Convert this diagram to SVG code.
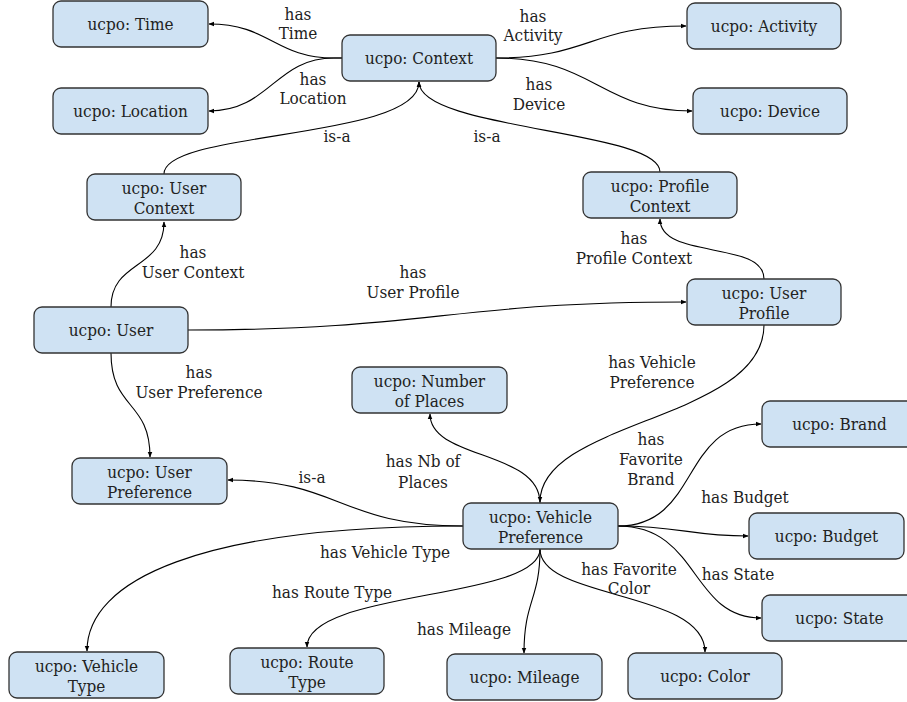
<svg xmlns="http://www.w3.org/2000/svg" width="907" height="702" viewBox="0 0 907 702">
<defs>
<marker id="arr" viewBox="0 0 10 10" refX="9" refY="5" markerWidth="6" markerHeight="6" markerUnits="userSpaceOnUse" orient="auto">
<path d="M0,1 L10,5 L0,9 Z" fill="#000"/>
</marker>
<style>
.n rect{fill:#cfe2f3;stroke:#333;stroke-width:1.3}
text{font-family:"DejaVu Serif Condensed","DejaVu Serif","Liberation Serif",serif;font-size:17px;fill:#222;text-anchor:middle}
.e path{fill:none;stroke:#000;stroke-width:1.1;marker-end:url(#arr)}
</style>
</defs>
<rect width="907" height="702" fill="#fff"/>
<g id="connectors" class="e">
<path d="M342,58 L334,58 C275,58 270,24 209,24"/>
<path d="M342,58 L334,58 C275,58 270,111 209,111"/>
<path d="M496,58 C590,58 590,26 686,26"/>
<path d="M496,58 C595,58 600,111 692,111"/>
<path d="M164,174 C164,130 419,140 419,82"/>
<path d="M660,172 C660,130 419,130 419,82"/>
<path d="M111,307 C111,260 164,270 164,222"/>
<path d="M188,330 C430,330 450,302 686,302"/>
<path d="M764,279 C764,240 660,260 660,219"/>
<path d="M111,353 C111,410 150,400 150,457"/>
<path d="M463,526 C340,526 340,480 228,480"/>
<path d="M764,325 C764,420 540,420 540,502"/>
<path d="M540,503 C540,450 430,460 430,414"/>
<path d="M618,526 C700,526 680,424 761,424"/>
<path d="M618,526 C680,526 690,536 748,536"/>
<path d="M618,526 C700,526 690,618 761,618"/>
<path d="M463,526 C200,526 87,580 87,651"/>
<path d="M540,549 C540,600 307,590 307,647"/>
<path d="M540,549 C540,600 524,600 524,653"/>
<path d="M540,549 C540,600 705,590 705,652"/>
</g>
<g id="edge-labels">
<text x="298" y="20">has</text><text x="298" y="39">Time</text>
<text x="313" y="85">has</text><text x="313" y="104">Location</text>
<text x="533" y="22">has</text><text x="533" y="41">Activity</text>
<text x="539" y="90">has</text><text x="539" y="110">Device</text>
<text x="337" y="142">is-a</text>
<text x="487" y="142">is-a</text>
<text x="193" y="258">has</text><text x="193" y="278">User Context</text>
<text x="413" y="278">has</text><text x="413" y="298">User Profile</text>
<text x="634" y="244">has</text><text x="634" y="264">Profile Context</text>
<text x="199" y="378">has</text><text x="199" y="398">User Preference</text>
<text x="652" y="368">has Vehicle</text><text x="652" y="388">Preference</text>
<text x="312" y="483">is-a</text>
<text x="423" y="467">has Nb of</text><text x="423" y="488">Places</text>
<text x="651" y="445">has</text><text x="651" y="465">Favorite</text><text x="651" y="485">Brand</text>
<text x="745" y="503">has Budget</text>
<text x="738" y="580">has State</text>
<text x="385" y="558">has Vehicle Type</text>
<text x="332" y="598">has Route Type</text>
<text x="464" y="635">has Mileage</text>
<text x="629" y="575">has Favorite</text><text x="629" y="594">Color</text>
</g>
<g id="time" class="n"><rect x="53" y="1" width="155" height="46" rx="8"/><text x="130.5" y="30">ucpo: Time</text></g>
<g id="location" class="n"><rect x="53" y="88" width="155" height="46" rx="8"/><text x="130.5" y="117">ucpo: Location</text></g>
<g id="context" class="n"><rect x="342" y="35" width="154" height="46" rx="8"/><text x="419" y="64">ucpo: Context</text></g>
<g id="activity" class="n"><rect x="687" y="3" width="154" height="46" rx="8"/><text x="764" y="32">ucpo: Activity</text></g>
<g id="device" class="n"><rect x="693" y="88" width="154" height="46" rx="8"/><text x="770" y="117">ucpo: Device</text></g>
<g id="user-context" class="n"><rect x="87" y="174" width="154" height="46" rx="8"/><text x="164" y="194">ucpo: User</text><text x="164" y="214">Context</text></g>
<g id="profile-context" class="n"><rect x="583" y="172" width="154" height="46" rx="8"/><text x="660" y="192">ucpo: Profile</text><text x="660" y="212">Context</text></g>
<g id="user" class="n"><rect x="34" y="307" width="154" height="46" rx="8"/><text x="111" y="336">ucpo: User</text></g>
<g id="user-profile" class="n"><rect x="687" y="279" width="154" height="46" rx="8"/><text x="764" y="299">ucpo: User</text><text x="764" y="319">Profile</text></g>
<g id="number-of-places" class="n"><rect x="352" y="367" width="155" height="46" rx="8"/><text x="429.5" y="387">ucpo: Number</text><text x="429.5" y="407">of Places</text></g>
<g id="user-preference" class="n"><rect x="72" y="458" width="155" height="46" rx="8"/><text x="149.5" y="478">ucpo: User</text><text x="149.5" y="498">Preference</text></g>
<g id="vehicle-preference" class="n"><rect x="463" y="503" width="155" height="46" rx="8"/><text x="540.5" y="523">ucpo: Vehicle</text><text x="540.5" y="543">Preference</text></g>
<g id="brand" class="n"><rect x="762" y="401" width="155" height="46" rx="8"/><text x="839.5" y="430">ucpo: Brand</text></g>
<g id="budget" class="n"><rect x="749" y="513" width="155" height="46" rx="8"/><text x="826.5" y="542">ucpo: Budget</text></g>
<g id="state" class="n"><rect x="762" y="595" width="155" height="46" rx="8"/><text x="839.5" y="624">ucpo: State</text></g>
<g id="vehicle-type" class="n"><rect x="9" y="652" width="155" height="46" rx="8"/><text x="86.5" y="672">ucpo: Vehicle</text><text x="86.5" y="692">Type</text></g>
<g id="route-type" class="n"><rect x="230" y="648" width="154" height="46" rx="8"/><text x="307" y="668">ucpo: Route</text><text x="307" y="688">Type</text></g>
<g id="mileage" class="n"><rect x="447" y="654" width="155" height="46" rx="8"/><text x="524.5" y="683">ucpo: Mileage</text></g>
<g id="color" class="n"><rect x="628" y="653" width="154" height="46" rx="8"/><text x="705" y="682">ucpo: Color</text></g>
</svg>
